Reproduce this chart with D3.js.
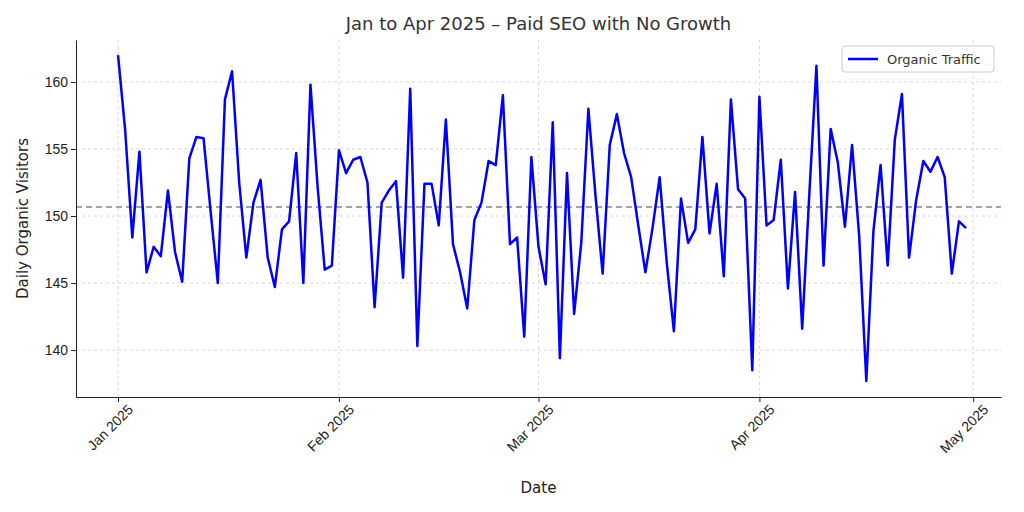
<!DOCTYPE html>
<html>
<head>
<meta charset="utf-8">
<script src="https://cdn.jsdelivr.net/npm/d3@7"></script>
<style>
  body { margin: 0; background: #fff; font-family: "DejaVu Sans", sans-serif; }
  .grid line { stroke: #d9d9d9; stroke-dasharray: 3,3; }
</style>
</head>
<body>
<div id="chart"></div>
<script>
const startDate = "2025-01-01";
const visitors = [
  162.0, 156.4, 148.4, 154.8, 145.8, 147.7, 147.0, 151.9, 147.3, 145.1,
  154.3, 155.9, 155.8, 150.3, 145.0, 158.7, 160.8, 152.5, 146.9, 151.0,
  152.7, 146.9, 144.7, 149.0, 149.6, 154.7, 145.0, 159.8, 152.2, 146.0,
  146.3, 154.9, 153.2, 154.2, 154.4, 152.5, 143.2, 151.0, 151.9, 152.6,
  145.4, 159.5, 140.3, 152.4, 152.4, 149.3, 157.2, 147.9, 145.8, 143.1,
  149.7, 151.0, 154.1, 153.8, 159.0, 147.9, 148.4, 141.0, 154.4, 147.7,
  144.9, 157.0, 139.4, 153.2, 142.7, 148.0, 158.0, 151.5, 145.7, 155.3,
  157.6, 154.7, 152.9, 149.3, 145.8, 149.1, 152.9, 146.5, 141.4, 151.3,
  148.0, 149.0, 155.9, 148.7, 152.4, 145.5, 158.7, 152.0, 151.3, 138.5,
  158.9, 149.3, 149.7, 154.2, 144.6, 151.8, 141.6, 151.6, 161.2, 146.3,
  156.5, 154.0, 149.2, 155.3, 148.5, 137.7, 148.9, 153.8, 146.3, 155.7,
  159.1, 146.9, 151.2, 154.1, 153.3, 154.4, 152.9, 145.7, 149.6, 149.1
];
const yTicks = [140, 145, 150, 155, 160];
const xTickLabels = ["Jan 2025", "Feb 2025", "Mar 2025", "Apr 2025", "May 2025"];
const xTickDates = ["2025-01-01", "2025-02-01", "2025-03-01", "2025-04-01", "2025-05-01"];

const W = 1024, H = 512;
const m = { left: 76, right: 23, top: 40, bottom: 115 };
const day = 864e5;
const t0 = Date.parse(startDate);
const data = visitors.map((v, i) => ({ date: new Date(t0 + i * day), v }));
const mean = d3.mean(visitors);

const svg = d3.select("#chart").append("svg").attr("width", W).attr("height", H);

const x = d3.scaleUtc()
  .domain([new Date(t0 - 5.9 * day), new Date(t0 + 123.9 * day)])
  .range([m.left, W - m.right]);
const y = d3.scaleLinear().domain([136.5, 163.13]).range([H - m.bottom, m.top]);

const tickDates = xTickDates.map(d => new Date(Date.parse(d)));

// grid
svg.append("g").attr("class", "grid")
  .selectAll("line.h").data(yTicks).join("line")
  .attr("x1", m.left).attr("x2", W - m.right)
  .attr("y1", d => y(d)).attr("y2", d => y(d));
svg.append("g").attr("class", "grid")
  .selectAll("line.v").data(tickDates).join("line")
  .attr("y1", m.top).attr("y2", H - m.bottom)
  .attr("x1", d => x(d)).attr("x2", d => x(d));

// mean line
svg.append("line")
  .attr("x1", m.left).attr("x2", W - m.right)
  .attr("y1", y(mean)).attr("y2", y(mean))
  .attr("stroke", "#888").attr("stroke-width", 1.5).attr("stroke-dasharray", "6,4");

// series
svg.append("path").datum(data)
  .attr("fill", "none").attr("stroke", "#0000ff").attr("stroke-width", 2.5)
  .attr("stroke-linejoin", "round")
  .attr("d", d3.line().x(d => x(d.date)).y(d => y(d.v)));

// axes
const xAxis = svg.append("g").attr("transform", `translate(0,${H - m.bottom})`)
  .call(d3.axisBottom(x).tickValues(tickDates).tickFormat((d, i) => xTickLabels[i]).tickSize(5).tickSizeOuter(0));
xAxis.selectAll("text").attr("font-size", 14).attr("fill", "#222")
  .attr("text-anchor", "end").attr("dx", "0.1em").attr("dy", "0.9em")
  .attr("transform", "rotate(-45)");
svg.append("g").attr("transform", `translate(${m.left},0)`)
  .call(d3.axisLeft(y).tickValues(yTicks).tickSize(5).tickSizeOuter(0))
  .selectAll("text").attr("font-size", 14).attr("fill", "#222");
svg.selectAll(".domain").attr("stroke", "#222");
svg.selectAll(".tick line").attr("stroke", "#222");
// hide top/right spines like the reference (left+bottom only)

svg.append("text").attr("x", (m.left + W - m.right) / 2).attr("y", 30)
  .attr("text-anchor", "middle").attr("font-size", 18).attr("fill", "#333")
  .text("Jan to Apr 2025 – Paid SEO with No Growth");
svg.append("text").attr("x", (m.left + W - m.right) / 2).attr("y", 493)
  .attr("text-anchor", "middle").attr("font-size", 15).attr("fill", "#222").text("Date");
svg.append("text").attr("transform", `translate(28,${(m.top + H - m.bottom) / 2}) rotate(-90)`)
  .attr("text-anchor", "middle").attr("font-size", 15).attr("fill", "#222").text("Daily Organic Visitors");

// legend
const lg = svg.append("g").attr("transform", "translate(842,46)");
lg.append("rect").attr("width", 152).attr("height", 26).attr("rx", 3)
  .attr("fill", "#fff").attr("fill-opacity", 0.85).attr("stroke", "#ccc");
lg.append("line").attr("x1", 6).attr("x2", 36).attr("y1", 13).attr("y2", 13)
  .attr("stroke", "#0000ff").attr("stroke-width", 2.5);
lg.append("text").attr("x", 45).attr("y", 18).attr("font-size", 13).attr("fill", "#333").text("Organic Traffic");
</script>
</body>
</html>
